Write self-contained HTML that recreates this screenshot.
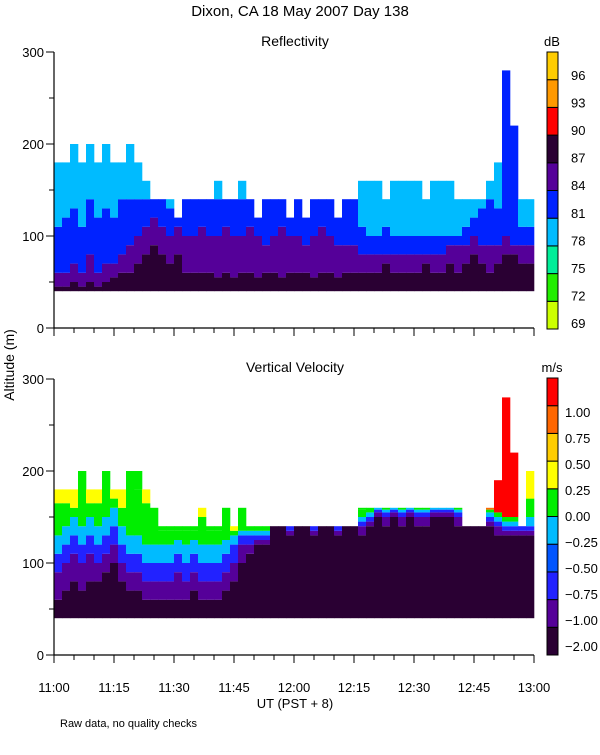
<!DOCTYPE html>
<html><head><meta charset="utf-8"><style>
body{margin:0;background:#fff;}
svg text{font-family:"Liberation Sans",sans-serif;fill:#000;}
</style></head><body>
<svg id="chart" width="600" height="750" viewBox="0 0 600 750" xmlns="http://www.w3.org/2000/svg">
<text x="300" y="16" font-size="15" text-anchor="middle">Dixon, CA 18 May 2007  Day 138</text>
<text x="295" y="46" font-size="14" text-anchor="middle">Reflectivity</text>
<text x="295" y="372" font-size="14" text-anchor="middle">Vertical Velocity</text>
<text transform="translate(14,365) rotate(-90)" font-size="14" text-anchor="middle">Altitude (m)</text>
<text x="295" y="708" font-size="13" text-anchor="middle">UT  (PST + 8)</text>
<text x="60" y="727" font-size="11">Raw data, no quality checks</text>
<g id="layer"></g>
</svg>
<script>
// ---- data (2-minute bins, 11:00 to 13:00) ----
const timeLabels = ["11:00","11:15","11:30","11:45","12:00","12:15","12:30","12:45","13:00"];
const altTicks = [0,100,200,300];
const dbLabels = ["69","72","75","78","81","84","87","90","93","96"];
const velLabels = ["-2.00","-1.00","-0.75","-0.50","-0.25","0.00","0.25","0.50","0.75","1.00"];

const reflTop = [180,180,200,180,200,180,200,180,180,200,180,160,140,140,140,120,140,140,140,140,160,140,140,160,140,120,140,140,140,120,140,120,140,140,140,120,140,140,160,160,160,140,160,160,160,160,140,160,160,160,140,140,140,140,160,180,280,220,140,140];
const reflL87 = [45,45,50,45,50,45,50,55,60,60,70,80,90,80,70,80,60,60,60,60,55,60,55,60,60,55,60,60,55,60,60,60,55,60,60,55,60,60,60,60,60,70,60,60,60,60,70,60,60,70,60,70,80,70,60,70,80,80,70,70];
const reflL84 = [60,60,70,60,80,60,70,70,80,90,100,110,120,110,100,110,100,100,110,100,100,110,100,100,110,100,90,100,110,100,100,90,100,110,100,90,90,90,80,80,80,80,80,80,80,80,80,80,80,90,90,90,100,90,90,90,100,90,90,90];
const reflL81 = [110,120,130,110,140,120,130,120,140,140,140,140,140,140,130,140,140,140,140,150,140,140,150,140,140,120,140,140,140,120,140,120,140,140,140,120,140,140,110,100,100,110,100,100,100,100,100,100,100,100,100,110,120,130,140,130,280,220,110,110];
const reflTopColor = [3,3,3,3,3,3,3,3,3,3,3,3,3,3,3,4,4,4,4,4,3,4,4,3,4,4,4,4,4,4,4,4,4,4,4,4,4,4,3,3,3,3,3,3,3,3,3,3,3,3,3,3,3,3,3,3,4,4,3,3];

const velTop = [180,180,180,200,180,180,200,180,180,200,200,180,160,140,140,140,140,140,160,140,140,160,140,160,140,140,140,140,140,140,140,140,140,140,140,140,140,140,160,160,160,160,160,160,160,160,160,160,160,160,160,140,140,140,160,190,280,220,140,200];
const velL200 = [60,70,80,70,80,80,90,100,80,70,70,60,60,60,60,60,60,70,60,60,60,70,80,100,110,120,120,140,140,130,140,140,130,140,140,130,140,140,130,140,150,140,150,140,150,140,140,150,150,150,140,140,140,140,140,130,130,130,130,130];
const velL100 = [90,100,110,100,110,100,110,120,100,90,90,80,80,80,80,90,80,90,80,80,80,90,100,120,120,125,125,140,140,135,140,140,135,140,140,135,140,140,140,145,155,150,155,150,155,150,150,155,155,155,150,140,140,140,145,140,135,135,135,135];
const velL075 = [110,120,130,120,130,120,130,140,120,110,110,100,100,100,100,110,100,110,100,100,100,110,120,130,130,130,130,140,140,140,140,140,140,140,140,140,140,140,145,150,158,155,158,155,158,155,155,158,158,158,155,140,140,140,150,145,140,140,140,140];
const velL025 = [130,140,150,140,150,140,150,160,140,130,130,120,120,120,120,125,120,125,120,120,120,125,130,135,135,135,135,140,140,140,140,140,140,140,140,140,140,140,150,155,160,158,160,158,160,158,158,160,160,160,158,140,140,140,155,150,145,145,140,150];
const velL000 = [165,165,160,175,165,165,175,170,160,175,180,165,150,135,135,135,135,135,150,135,135,150,135,150,135,140,140,140,140,140,140,140,140,140,140,140,140,140,158,160,160,160,160,160,160,160,160,160,160,160,160,140,140,140,158,155,150,150,140,170];
const velTopColor = [6,6,6,5,6,6,5,6,6,5,5,6,5,5,5,5,5,5,6,5,5,5,6,5,5,4,4,4,4,4,4,4,4,4,4,4,4,4,5,4,4,4,4,4,4,4,4,4,4,4,4,4,4,4,8,9,9,9,4,6];

const dbColors = ["#ccff00","#22ee00","#00ee99","#00bbff","#0022ff","#550099","#2a0033","#ff0000","#ff9900","#ffcc00"];
const velColors = ["#2a0033","#550099","#2222ff","#0055ff","#00bbff","#00ee00","#ffff00","#ffcc00","#ff6600","#ff0000"];

// ---- layout ----
const X0 = 54, X1 = 534;
const panels = [
  {y0:328, y300:52, top:reflTop, layers:[[reflL87,6],[reflL84,5],[reflL81,4]], topColor:reflTopColor, colors:dbColors, labels:dbLabels, unit:"dB", cbTop:52, cbBot:329, labTop:75, labBot:323, name:"reflectivity"},
  {y0:655, y300:379, top:velTop, layers:[[velL200,0],[velL100,1],[velL075,2],[velL025,4],[velL000,5]], topColor:velTopColor, colors:velColors, labels:velLabels, unit:"m/s", cbTop:378, cbBot:655, labTop:412, labBot:646, name:"velocity"}
];
const NS = "http://www.w3.org/2000/svg";
const g = document.getElementById("layer");
function mk(tag, attrs){const e=document.createElementNS(NS,tag);for(const k in attrs)e.setAttribute(k,attrs[k]);g.appendChild(e);return e;}
function xScale(minutes){return X0 + (X1-X0)*minutes/120;}

panels.forEach(p=>{
  const yS = v => p.y0 + (p.y300-p.y0)*v/300;
  const n = p.top.length, bw = (X1-X0)/n;
  for(let i=0;i<n;i++){
    let prev = 40;
    const x = xScale(i*2);
    p.layers.forEach(([arr,ci])=>{
      const h = Math.min(arr[i], p.top[i]);
      if(h>prev){
        const r = mk("rect",{x:x, y:yS(h), width:bw+0.3, height:yS(prev)-yS(h), fill:p.colors[ci]});
        
        
        prev = h;
      }
    });
    if(p.top[i]>prev){
      const r = mk("rect",{x:x, y:yS(p.top[i]), width:bw+0.3, height:yS(prev)-yS(p.top[i]), fill:p.colors[p.topColor[i]]});
      
      
    }
  }
  const ax = mk("path",{d:`M${X0},${yS(300)}V${p.y0}H${X1}`, stroke:"#000", fill:"none", "stroke-width":1.2});
  
  
  for(let v=0; v<=300; v+=50){
    const major = v%100===0;
    mk("line",{x1:X0-(major?8:5), x2:X0, y1:yS(v), y2:yS(v), stroke:"#000"});
  }
  altTicks.forEach(v=>{
    const t = mk("text",{x:X0-10, y:yS(v)+5, "font-size":13, "text-anchor":"end"});
    t.textContent = v;
    
    
  });
  for(let m=0; m<=120; m+=5){
    const major = m%15===0;
    mk("line",{x1:xScale(m), x2:xScale(m), y1:p.y0, y2:p.y0+(major?8:5), stroke:"#000"});
  }
  const segH = (p.cbBot-p.cbTop)/p.colors.length;
  p.colors.forEach((c,k)=>{
    const r = mk("rect",{x:547, y:p.cbBot-(k+1)*segH, width:11, height:segH, fill:c, stroke:"#000", "stroke-width":1});
    
    
  });
  p.labels.forEach((l,k)=>{
    const t = mk("text",{x:p.unit==="dB"?571:565, y:p.labBot-(p.labBot-p.labTop)*k/(p.labels.length-1)+5, "font-size":13});
    t.textContent = l.replace("-","\u2212");
    
    
  });
  const u = mk("text",{x:552, y:p.cbTop-6, "font-size":13, "text-anchor":"middle"});
  u.textContent = p.unit;
  
  
});
timeLabels.forEach((l,k)=>{
  const t = mk("text",{x:xScale(k*15), y:692, "font-size":13, "text-anchor":"middle"});
  t.textContent = l;
  
  
});
</script>
</body></html>
